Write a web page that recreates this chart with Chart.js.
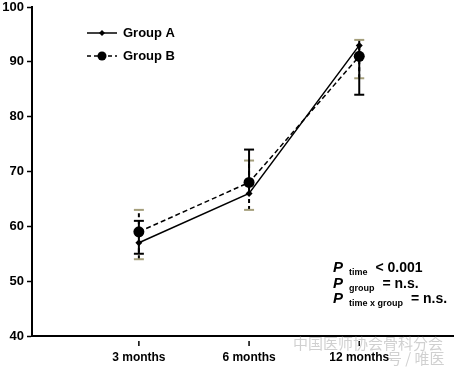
<!DOCTYPE html>
<html>
<head>
<meta charset="utf-8">
<script src="https://cdn.jsdelivr.net/npm/chart.js@4/dist/chart.umd.min.js"></script>
<style>
  body { margin: 0; background: #fff; overflow: hidden; }
</style>
</head>
<body>
<canvas id="timeChart" width="454" height="368"></canvas>
<script>
'use strict';

//data
var categories = ['3 months', '6 months', '12 months'];
var groupA = [57, 66, 93];
var groupB = [59, 68, 91];
//error bar ends for each group
var groupALow = [55, 66, 84];
var groupAHigh = [61, 74, 93];
var groupBLow = [54, 63, 87];
var groupBHigh = [63, 72, 94];
var yTicks = [40, 50, 60, 70, 80, 90, 100];
var statLines = [
  ['time', '< 0.001'],
  ['group', '= n.s.'],
  ['time x group', '= n.s.']
];

var capColor = '#a59f7c';
var fontName = '"Liberation Sans", Arial, sans-serif';

//x positions are just the category index
function toPoints(values) {
  var points = [];
  for (var i = 0; i < values.length; i++) {
    points.push({ x: i, y: values[i] });
  }
  return points;
}

//draws the error bars under the markers
var errorBarPlugin = {
  id: 'errorBars',
  beforeDatasetsDraw: function(chart) {
    var ctx = chart.ctx;
    var xScale = chart.scales.x;
    var yScale = chart.scales.y;
    var bars = [
      { mean: groupA, low: groupALow, high: groupAHigh, cap: '#000', dash: [] },
      { mean: groupB, low: groupBLow, high: groupBHigh, cap: capColor, dash: [4, 3] }
    ];
    ctx.save();
    for (var b = bars.length - 1; b >= 0; b--) {
      var bar = bars[b];
      for (var i = 0; i < bar.mean.length; i++) {
        var x = xScale.getPixelForValue(i);
        var yLow = yScale.getPixelForValue(bar.low[i]);
        var yHigh = yScale.getPixelForValue(bar.high[i]);
        ctx.strokeStyle = '#000';
        ctx.lineWidth = 2;
        ctx.setLineDash(bar.dash);
        ctx.beginPath();
        ctx.moveTo(x, yLow);
        ctx.lineTo(x, yHigh);
        ctx.stroke();
        ctx.setLineDash([]);
        ctx.strokeStyle = bar.cap;
        ctx.lineWidth = 2;
        if (bar.low[i] !== bar.mean[i]) {
          ctx.beginPath();
          ctx.moveTo(x - 5, yLow);
          ctx.lineTo(x + 5, yLow);
          ctx.stroke();
        }
        if (bar.high[i] !== bar.mean[i]) {
          ctx.beginPath();
          ctx.moveTo(x - 5, yHigh);
          ctx.lineTo(x + 5, yHigh);
          ctx.stroke();
        }
      }
    }
    ctx.restore();
  }
};

//legend, x tick marks, p values and the watermark
var extrasPlugin = {
  id: 'extras',
  afterDraw: function(chart) {
    var ctx = chart.ctx;
    var xScale = chart.scales.x;
    var bottom = chart.chartArea.bottom;
    ctx.save();

    //small tick marks under the x axis
    ctx.strokeStyle = '#000';
    ctx.lineWidth = 1.5;
    for (var i = 0; i < categories.length; i++) {
      var tx = xScale.getPixelForValue(i);
      ctx.beginPath();
      ctx.moveTo(tx, bottom + 5);
      ctx.lineTo(tx, bottom + 10);
      ctx.stroke();
    }

    //legend
    var names = ['Group A', 'Group B'];
    for (var k = 0; k < 2; k++) {
      var ly = 33 + k * 23;
      ctx.strokeStyle = '#000';
      ctx.lineWidth = 1.5;
      ctx.setLineDash(k === 0 ? [] : [4, 3]);
      ctx.beginPath();
      ctx.moveTo(87, ly);
      ctx.lineTo(117, ly);
      ctx.stroke();
      ctx.setLineDash([]);
      ctx.fillStyle = '#000';
      ctx.beginPath();
      if (k === 0) {
        ctx.moveTo(102, ly - 3);
        ctx.lineTo(105, ly);
        ctx.lineTo(102, ly + 3);
        ctx.lineTo(99, ly);
      } else {
        ctx.arc(102, ly, 4.5, 0, Math.PI * 2);
      }
      ctx.fill();
      ctx.font = 'bold 13px ' + fontName;
      ctx.textBaseline = 'middle';
      ctx.fillText(names[k], 123, ly);
    }

    //p values
    ctx.textBaseline = 'alphabetic';
    for (var s = 0; s < statLines.length; s++) {
      var base = 272 + s * 15.5;
      ctx.font = 'italic bold 15px ' + fontName;
      ctx.fillText('P', 333, base);
      ctx.font = 'bold 9px ' + fontName;
      ctx.fillText(statLines[s][0], 349, base + 3);
      var subWidth = ctx.measureText(statLines[s][0]).width;
      ctx.font = 'bold 14px ' + fontName;
      ctx.fillText(statLines[s][1], 349 + subWidth + 8, base);
    }

    //faint watermark
    ctx.fillStyle = 'rgba(150,150,150,0.45)';
    ctx.font = '15px "Noto Sans CJK SC"';
    ctx.fillText('中国医师协会骨科分会', 293, 349);
    ctx.fillText('号 / 唯医', 387, 364);
    ctx.restore();
  }
};

var chartData = {
  datasets: [
    {
      label: 'Group A',
      data: toPoints(groupA),
      borderColor: '#000',
      backgroundColor: '#000',
      borderWidth: 1.5,
      pointStyle: 'rectRot',
      pointRadius: 3.5,
      pointBorderWidth: 0
    },
    {
      label: 'Group B',
      data: toPoints(groupB),
      borderColor: '#000',
      backgroundColor: '#000',
      borderWidth: 1.5,
      borderDash: [5, 3],
      pointStyle: 'circle',
      pointRadius: 5.5,
      pointBorderWidth: 0
    }
  ]
};

var ctx = document.getElementById('timeChart').getContext('2d');
var lineChart = new Chart(ctx, {
  type: 'line',
  data: chartData,
  options: {
    responsive: false,
    animation: false,
    layout: { padding: 0, autoPadding: false },
    plugins: {
      legend: { display: false },
      tooltip: { enabled: false }
    },
    scales: {
      x: {
        type: 'linear',
        min: -0.97,
        max: 2.86,
        afterBuildTicks: function(scale) {
          scale.ticks = categories.map(function(c, i) { return { value: i }; });
        },
        afterFit: function(scale) {
          scale.height = 32;
          scale.paddingLeft = 0;
          scale.paddingRight = 0;
        },
        border: { color: '#000', width: 2 },
        grid: { display: false },
        ticks: {
          color: '#000',
          padding: 6,
          maxRotation: 0,
          font: { family: fontName, size: 12, weight: 'bold' },
          callback: function(value) { return categories[value]; }
        }
      },
      y: {
        min: 40,
        max: 100,
        afterBuildTicks: function(scale) {
          scale.ticks = yTicks.map(function(v) { return { value: v }; });
        },
        afterFit: function(scale) {
          scale.width = 32;
          scale.paddingTop = 7;
          scale.paddingBottom = 0;
        },
        border: { color: '#000', width: 2 },
        grid: {
          drawOnChartArea: false,
          drawTicks: true,
          tickLength: 5,
          tickColor: '#000',
          tickWidth: 1.5
        },
        ticks: {
          color: '#000',
          padding: 3,
          font: { family: fontName, size: 13, weight: 'bold' }
        }
      }
    }
  },
  plugins: [errorBarPlugin, extrasPlugin]
});
</script>
</body>
</html>
